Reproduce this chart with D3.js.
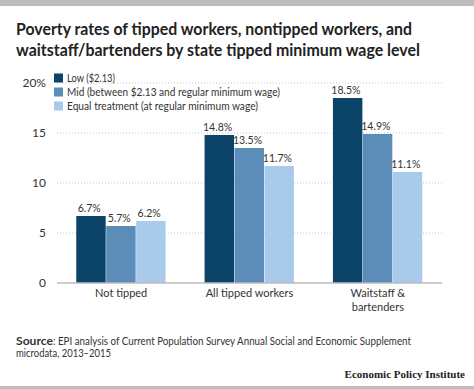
<!DOCTYPE html>
<html>
<head>
<meta charset="utf-8">
<script src="https://cdn.jsdelivr.net/npm/d3@7"></script>
<style>
  body { margin: 0; background: #fff; }
  svg text { font-family: Lato, "Noto Sans", sans-serif; }
</style>
</head>
<body>
<script>
var categories = [['Not tipped'], ['All tipped workers'], ['Waitstaff &', 'bartenders']];
var seriesNames = ['Low ($2.13)', 'Mid (between $2.13 and regular minimum wage)', 'Equal treatment (at regular minimum wage)'];
var low = [6.7, 14.8, 18.5];
var mid = [5.7, 13.5, 14.9];
var equal = [6.2, 11.7, 11.1];
var yTicks = [0, 5, 10, 15, 20];
var colours = ['#0b4468', '#5b8db8', '#a8cbec'];

var w = 474, h = 389;
var series = [low, mid, equal];

var svg = d3.select('body')
  .append('svg')
  .attr('width', w)
  .attr('height', h);

// grey bands top and bottom
svg.append('rect').attr('x', 0).attr('y', 0).attr('width', w).attr('height', 6).attr('fill', '#bdbdbd');
svg.append('rect').attr('x', 0).attr('y', 386).attr('width', w).attr('height', 3).attr('fill', '#bdbdbd');

// title
var titleLines = ['Poverty rates of tipped workers, nontipped workers, and', 'waitstaff/bartenders by state tipped minimum wage level'];
var titleW = [396, 404];
titleLines.forEach(function(t, i) {
  svg.append('text')
    .attr('x', 16).attr('y', 35 + i * 21)
    .attr('font-size', '17px').attr('font-weight', 'bold').attr('fill', '#222')
    .attr('textLength', titleW[i]).attr('lengthAdjust', 'spacingAndGlyphs')
    .text(t);
});

var x0 = 57, x1 = 442;
var yScale = d3.scaleLinear().domain([0, 20]).range([283, 83]);
var xScale = d3.scaleBand()
  .domain(d3.range(categories.length))
  .range([x0, x1])
  .paddingInner(0.3)
  .paddingOuter(0.15);
var xSub = d3.scaleBand()
  .domain(d3.range(series.length))
  .range([0, xScale.bandwidth()]);

// gridlines
svg.selectAll('.grid')
  .data(yTicks.filter(function(d) { return d > 0; }))
  .enter().append('line')
  .attr('x1', x0).attr('x2', x1)
  .attr('y1', function(d) { return yScale(d); })
  .attr('y2', function(d) { return yScale(d); })
  .attr('stroke', '#c8c8c8')
  .attr('stroke-width', 1)
  .attr('stroke-dasharray', '1,2');

// y tick labels
svg.selectAll('.ylab')
  .data(yTicks)
  .enter().append('text')
  .attr('x', 46)
  .attr('y', function(d) { return yScale(d) + 4; })
  .attr('text-anchor', 'end')
  .attr('font-size', '12px')
  .attr('fill', '#333')
  .text(function(d) { return d === 20 ? '20%' : d; });

// bars
series.forEach(function(vals, s) {
  svg.selectAll('.bar' + s)
    .data(vals)
    .enter().append('rect')
    .attr('x', function(d, i) { return xScale(i) + xSub(s); })
    .attr('y', function(d) { return yScale(d); })
    .attr('width', xSub.bandwidth() - 0.5)
    .attr('height', function(d) { return yScale(0) - yScale(d); })
    .attr('fill', colours[s]);

  svg.selectAll('.val' + s)
    .data(vals)
    .enter().append('text')
    .attr('x', function(d, i) { return xScale(i) + xSub(s) + xSub.bandwidth() / 2 - 2; })
    .attr('y', function(d) { return yScale(d) - 4; })
    .attr('text-anchor', 'middle')
    .attr('font-size', '10.5px')
    .attr('fill', '#333')
    .text(function(d) { return d.toFixed(1) + '%'; });
});

// baseline
svg.append('line')
  .attr('x1', x0).attr('x2', x1)
  .attr('y1', yScale(0)).attr('y2', yScale(0))
  .attr('stroke', '#bbb').attr('stroke-width', 1.5);

// category labels
categories.forEach(function(lines, i) {
  svg.append('text')
    .attr('text-anchor', 'middle')
    .attr('font-size', '11px')
    .attr('fill', '#333')
    .selectAll('tspan')
    .data(lines)
    .enter().append('tspan')
    .attr('x', xScale(i) + xScale.bandwidth() / 2)
    .attr('y', function(d, j) { return 297 + j * 14; })
    .text(function(d) { return d; });
});

// legend
var legendW = [48, 213, 191];
var legend = svg.selectAll('.legend')
  .data(seriesNames)
  .enter().append('g')
  .attr('transform', function(d, i) { return 'translate(54,' + (73.5 + i * 14) + ')'; });
legend.append('rect')
  .attr('width', 9).attr('height', 9)
  .attr('fill', function(d, i) { return colours[i]; });
legend.append('text')
  .attr('x', 13).attr('y', 8.5)
  .attr('font-size', '11px')
  .attr('fill', '#333')
  .attr('textLength', function(d, i) { return legendW[i]; })
  .attr('lengthAdjust', 'spacingAndGlyphs')
  .text(function(d) { return d; });

// source
svg.append('text')
  .attr('x', 16).attr('y', 345)
  .attr('font-size', '11px').attr('font-weight', 'bold').attr('fill', '#333')
  .attr('textLength', 37).attr('lengthAdjust', 'spacingAndGlyphs')
  .text('Source');
svg.append('text')
  .attr('x', 53).attr('y', 345)
  .attr('font-size', '11px').attr('fill', '#333')
  .attr('textLength', 358).attr('lengthAdjust', 'spacingAndGlyphs')
  .text(': EPI analysis of Current Population Survey Annual Social and Economic Supplement');
svg.append('text')
  .attr('x', 16).attr('y', 357)
  .attr('font-size', '11px').attr('fill', '#333')
  .attr('textLength', 95).attr('lengthAdjust', 'spacingAndGlyphs')
  .text('microdata, 2013\u20132015');

svg.append('text')
  .attr('x', 465).attr('y', 378)
  .attr('text-anchor', 'end')
  .style('font-family', '"Liberation Serif", "DejaVu Serif", serif')
  .attr('font-size', '11px').attr('font-weight', 'bold').attr('fill', '#222')
  .text('Economic Policy Institute');
</script>
</body>
</html>
